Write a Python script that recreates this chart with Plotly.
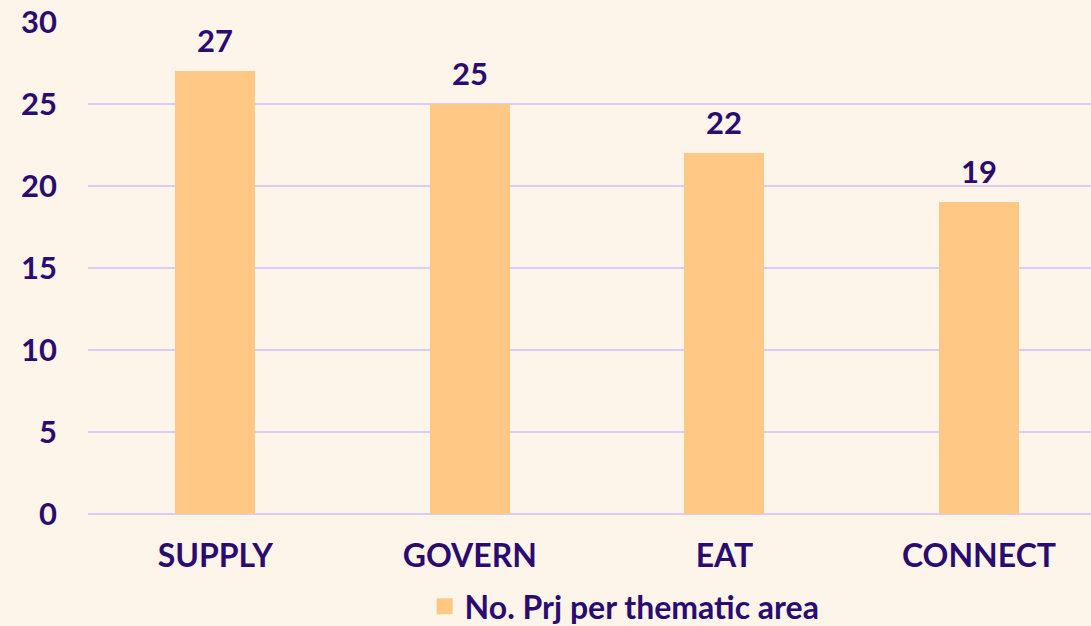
import plotly.graph_objects as go

categories = ["SUPPLY", "GOVERN", "EAT", "CONNECT"]
values = [27, 25, 22, 19]
series_name = "No. Prj per thematic area"
tick_vals = [0, 5, 10, 15, 20, 25, 30]

TEXT = "#2b0b6f"
BAR = "#ffc884"
BG = "#fdf5ea"
GRID = "#d9ccf7"
FONT = "Lato"
FS = 32

fig = go.Figure()
fig.add_trace(go.Bar(
    x=categories, y=values, name=series_name,
    marker=dict(color=BAR, line=dict(width=0)),
    width=0.314, showlegend=False,
))
fig.add_trace(go.Scatter(
    x=[None], y=[None], mode="markers", name=series_name,
    marker=dict(symbol="square", size=18, color=BAR), showlegend=True,
))
for c, v in zip(categories, values):
    fig.add_annotation(x=c, y=v, text=f"<b>{v}</b>", showarrow=False,
                       yanchor="bottom", yshift=10,
                       font=dict(family=FONT, size=FS - 1, color=TEXT))

fig.update_layout(
    width=1091, height=626,
    paper_bgcolor=BG, plot_bgcolor=BG,
    margin=dict(l=88, r=0, t=22, b=112, autoexpand=False),
    font=dict(family=FONT, size=FS, color=TEXT),
    bargap=0,
    xaxis=dict(range=[-0.5, 3.44], showgrid=False, showline=False, zeroline=False,
               tickfont=dict(family=FONT, size=FS, color=TEXT, weight="bold"),
               ticks="", ticklabelstandoff=20),
    yaxis=dict(range=[0, 30], tickvals=tick_vals, showgrid=True, gridcolor=GRID,
               gridwidth=2, zeroline=True, zerolinecolor=GRID, zerolinewidth=2,
               showline=False, ticks="", ticklabelstandoff=30,
               tickfont=dict(family=FONT, size=FS - 1, color=TEXT, weight="bold")),
    legend=dict(orientation="h", x=0.535, xanchor="center", yref="paper",
                y=-0.244, yanchor="bottom", itemwidth=30,
                font=dict(family=FONT, size=FS, color=TEXT, weight="bold"),
                bgcolor="rgba(0,0,0,0)"),
)
fig.write_html("out.html", config={"displayModeBar": False},
               post_script="document.body.style.margin='0';")
